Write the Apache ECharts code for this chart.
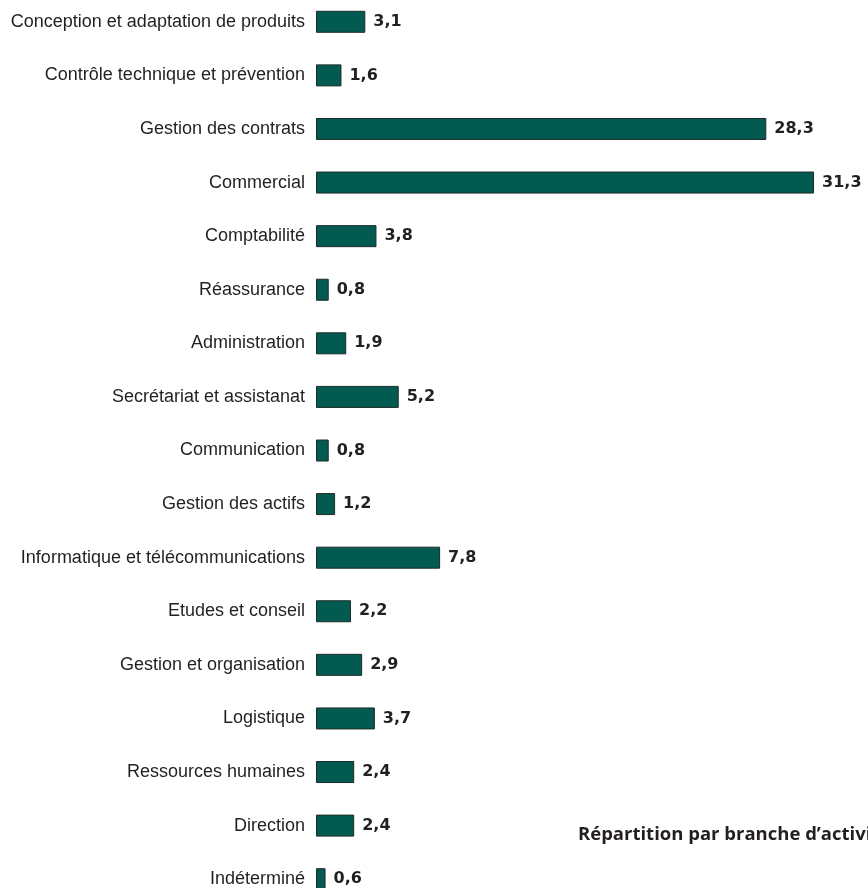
<!DOCTYPE html>
<html lang="fr">
<head>
    <meta charset="utf-8" />
    <title>Répartition par branche d'activité</title>
    <script type="text/javascript" src="https://cdn.jsdelivr.net/npm/echarts@6/dist/echarts.min.js"></script>
    <style type="text/css">
        html, body { margin: 0; padding: 0; background: #fff; }
    </style>
</head>
<body>
    <div id="main" style="width:868px;height:888px;"></div>

    <script type="text/javascript">
        var categories = [
            'Conception et adaptation de produits',
            'Contrôle technique et prévention',
            'Gestion des contrats',
            'Commercial',
            'Comptabilité',
            'Réassurance',
            'Administration',
            'Secrétariat et assistanat',
            'Communication',
            'Gestion des actifs',
            'Informatique et télécommunications',
            'Etudes et conseil',
            'Gestion et organisation',
            'Logistique',
            'Ressources humaines',
            'Direction',
            'Indéterminé'
        ];
        var values = [3.1, 1.6, 28.3, 31.3, 3.8, 0.8, 1.9, 5.2, 0.8, 1.2, 7.8, 2.2, 2.9, 3.7, 2.4, 2.4, 0.6];
        var chartTitle = 'Répartition par branche d\u2019activité';

        var myChart = echarts.init(document.getElementById('main'));

        var option = {
            animation: false,
            title: {
                text: chartTitle,
                left: 578,
                top: 825,
                padding: 0,
                textStyle: {
                    fontFamily: 'Open Sans',
                    fontWeight: 'bold',
                    fontSize: 18.5,
                    color: '#231f20'
                }
            },
            grid: {
                left: 316,
                top: -5,
                width: 541,
                height: 911,
                containLabel: false,
                outerBoundsMode: 'none'
            },
            xAxis: {
                type: 'value',
                min: 0,
                max: 34,
                show: false
            },
            yAxis: {
                type: 'category',
                inverse: true,
                data: categories,
                axisLine: { show: false },
                axisTick: { show: false },
                axisLabel: {
                    margin: 11,
                    fontFamily: 'Liberation Sans',
                    fontSize: 18,
                    color: '#231f20'
                }
            },
            series: [{
                type: 'bar',
                data: values,
                barWidth: 22,
                itemStyle: {
                    color: '#035a50',
                    borderColor: '#1d2b29',
                    borderWidth: 1
                },
                label: {
                    show: true,
                    position: 'right',
                    distance: 8,
                    fontFamily: 'DejaVu Sans',
                    fontWeight: 'bold',
                    fontSize: 16,
                    color: '#231f20',
                    formatter: function (p) {
                        return p.value.toFixed(1).replace('.', ',');
                    }
                }
            }]
        };
        myChart.setOption(option, true);
    </script>
</body>
</html>
